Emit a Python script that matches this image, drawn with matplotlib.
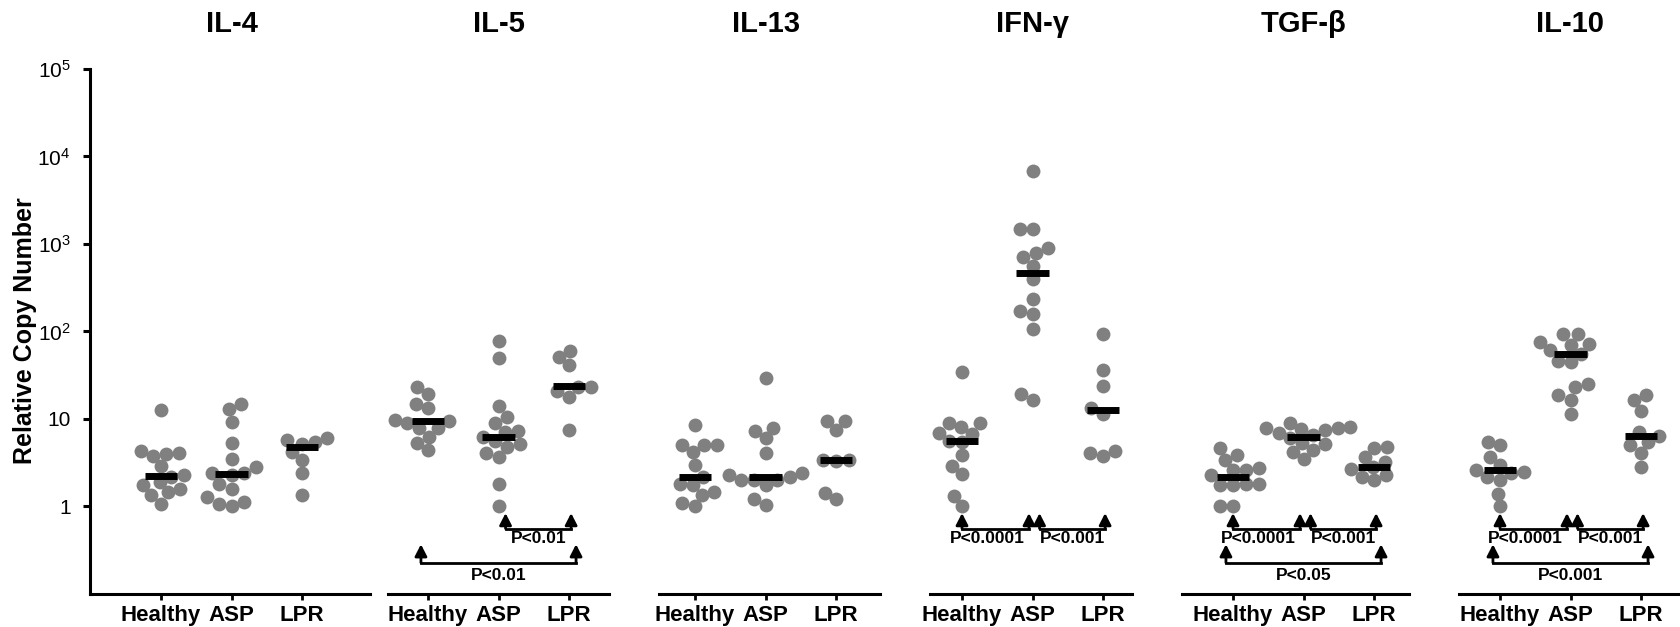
import numpy as np
import matplotlib
matplotlib.use('Agg')
import matplotlib.pyplot as plt
from matplotlib.transforms import blended_transform_factory

plt.rcParams['font.family'] = ['Liberation Sans', 'DejaVu Sans']
plt.rcParams['mathtext.default'] = 'regular'

groups = ['Healthy', 'ASP', 'LPR']
cytokines = ['IL-4', 'IL-5', 'IL-13', 'IFN-γ', 'TGF-β', 'IL-10']

# relative copy numbers
il4_healthy = [12.6, 4.3, 4.0, 4.1, 3.8, 2.9, 2.3, 2.2, 1.9, 1.75, 1.6, 1.45, 1.35, 1.08]
il4_asp = [14.8, 12.9, 9.2, 5.3, 3.45, 2.8, 2.4, 2.4, 2.3, 1.8, 1.6, 1.27, 1.12, 1.08, 1.0]
il4_lpr = [6.0, 5.8, 5.4, 5.2, 4.2, 3.4, 2.4, 1.34]
il4_median = [2.25, 2.33, 4.8]

il5_healthy = [23.3, 19.5, 15.0, 13.2, 9.7, 9.4, 9.1, 7.8, 7.8, 6.2, 5.3, 4.4]
il5_asp = [78, 50, 14, 10.5, 9.0, 7.3, 7.1, 6.2, 5.6, 5.2, 4.8, 4.1, 3.7, 1.8, 1.0]
il5_lpr = [60, 51, 41, 23, 23, 21, 18, 7.4]
il5_median = [9.4, 6.2, 23.7]

il13_healthy = [8.5, 5.1, 5.1, 5.0, 4.2, 3.0, 2.2, 1.8, 1.74, 1.46, 1.34, 1.09, 1.0]
il13_asp = [29.8, 7.9, 7.2, 6.0, 4.1, 2.4, 2.3, 2.2, 2.0, 2.0, 2.0, 1.74, 1.22, 1.05]
il13_lpr = [9.5, 9.5, 7.4, 3.4, 3.4, 3.3, 1.44, 1.22]
il13_median = [2.17, 2.17, 3.37]

ifng_healthy = [34.5, 8.9, 8.9, 8.2, 7.0, 6.8, 5.6, 5.5, 3.9, 2.9, 2.33, 1.31, 1.0]
ifng_asp = [6900, 1480, 1480, 890, 785, 718, 565, 395, 235, 173, 158, 108, 19.2, 16.7]
ifng_lpr = [93, 36, 23.7, 13.2, 11.5, 4.3, 4.1, 3.8]
ifng_median = [5.6, 470, 12.6]

tgfb_healthy = [4.65, 3.9, 3.4, 2.75, 2.6, 2.6, 2.27, 1.82, 1.8, 1.76, 1.74, 1.01, 1.0]
tgfb_asp = [9.0, 8.1, 7.8, 7.8, 7.6, 7.4, 7.0, 6.5, 6.0, 5.3, 5.2, 4.4, 4.2, 3.5]
tgfb_lpr = [4.8, 4.7, 3.67, 3.2, 2.8, 2.7, 2.27, 2.2, 1.99]
tgfb_median = [2.2, 6.2, 2.8]

il10_healthy = [5.5, 5.0, 3.7, 3.0, 2.6, 2.5, 2.4, 2.17, 1.99, 1.4, 1.0]
il10_asp = [93, 93, 75, 72, 70, 61, 55, 46, 45, 25, 23, 18.6, 16.7, 11.3]
il10_lpr = [18.7, 16.4, 12.4, 7.1, 6.4, 5.5, 5.0, 4.1, 2.8]
il10_median = [2.63, 55, 6.4]

# significance brackets: (group a, group b, label, level)
il5_tests = [(1, 2, 'P<0.01', 0), (0, 2, 'P<0.01', 1)]
ifng_tests = [(0, 1, 'P<0.0001', 0), (1, 2, 'P<0.001', 0)]
tgfb_tests = [(0, 1, 'P<0.0001', 0), (1, 2, 'P<0.001', 0), (0, 2, 'P<0.05', 1)]
il10_tests = [(0, 1, 'P<0.0001', 0), (1, 2, 'P<0.001', 0), (0, 2, 'P<0.001', 1)]

panels = [
    ([il4_healthy, il4_asp, il4_lpr], il4_median, []),
    ([il5_healthy, il5_asp, il5_lpr], il5_median, il5_tests),
    ([il13_healthy, il13_asp, il13_lpr], il13_median, []),
    ([ifng_healthy, ifng_asp, ifng_lpr], ifng_median, ifng_tests),
    ([tgfb_healthy, tgfb_asp, tgfb_lpr], tgfb_median, tgfb_tests),
    ([il10_healthy, il10_asp, il10_lpr], il10_median, il10_tests),
]

# panel layout in pixels: (spine left, spine right, first tick)
W, H = 1680, 627
extents = [(90, 370, 161), (388, 609, 428), (659, 880, 695),
           (930, 1132, 962), (1182, 1409, 1233), (1459, 1680, 1500)]
px_unit = 70.5
y_top, y_bot = 69, 594
px_decade = (y_bot - y_top) / 6.0

# y levels for brackets: (line, arrow tip, text)
levels = [(0.56, 0.84, 0.43), (0.228, 0.37, 0.162)]


def swarm_offsets(vals, diam=13.0):
    y = np.log10(vals) * px_decade
    xs = np.zeros(len(y))
    placed = []
    for idx in np.argsort(y):
        yi = y[idx]
        near = [(px, py) for px, py in placed if abs(py - yi) < diam]
        cands = [0.0]
        for px, py in near:
            dx = np.sqrt(diam ** 2 - (py - yi) ** 2)
            cands += [px - dx, px + dx]
        cands.sort(key=abs)
        for c in cands:
            if all((c - px) ** 2 + (yi - py) ** 2 >= diam ** 2 - 1e-6 for px, py in near):
                xs[idx] = c
                break
        placed.append((xs[idx], yi))
    return xs / px_unit


fig = plt.figure(figsize=(W / 100, H / 100), dpi=100)

for k, ((series, med, tests), (L, R, t0)) in enumerate(zip(panels, extents)):
    ax = fig.add_axes([L / W, 1 - y_bot / H, (R - L) / W, (y_bot - y_top) / H])
    ax.set_yscale('log')
    ax.set_ylim(0.1, 1e5)
    ax.set_xlim((L - t0) / px_unit, (R - t0) / px_unit)

    for i, vals in enumerate(series):
        ax.scatter(i + swarm_offsets(vals), vals, s=100, color='#808080',
                   linewidths=0, zorder=2, clip_on=False)
        ax.hlines(med[i], i - 0.23, i + 0.23, color='black', lw=5, zorder=3)

    for a, b, label, lev in tests:
        yl, yt, ytx = levels[lev]
        if lev == 0:
            x0 = a + (0.1 if a == 1 else 0.0)
            x1 = b + (-0.05 if b == 1 else 0.03)
        else:
            x0, x1 = a - 0.1, b + 0.1
        ax.plot([x0, x1], [yl, yl], color='black', lw=2.0, solid_capstyle='projecting')
        for x in (x0, x1):
            ax.annotate('', xy=(x, yt), xytext=(x, yl),
                        arrowprops=dict(arrowstyle='-|>,head_length=0.7,head_width=0.36',
                                        color='black', lw=2.0, shrinkA=0, shrinkB=0))
        xm = (x0 + x1) / 2 - (0.12 if (a, b) == (0, 1) else 0.0)
        ax.text(xm, ytx, label, ha='center', va='center', fontsize=12.5, fontweight='bold')

    for s in ['top', 'right']:
        ax.spines[s].set_visible(False)
    ax.spines['bottom'].set_linewidth(2.2)
    ax.set_xticks(range(3))
    ax.set_xticklabels(groups, fontsize=16, fontweight='bold')
    ax.tick_params(axis='x', length=4, width=2, pad=4)
    ax.yaxis.set_minor_locator(plt.NullLocator())

    if k == 0:
        ax.spines['left'].set_linewidth(2.2)
        ax.set_yticks([1, 10, 1e2, 1e3, 1e4, 1e5])
        ax.set_yticklabels(['1', '10', '$10^2$', '$10^3$', '$10^4$', '$10^5$'], fontsize=15)
        ax.tick_params(axis='y', length=5, width=2.2, pad=9)
    else:
        ax.spines['left'].set_visible(False)
        ax.tick_params(axis='y', left=False, labelleft=False)

    tr = blended_transform_factory(ax.transData, ax.transAxes)
    ax.text(1, 1 + 45 / (y_bot - y_top), cytokines[k], transform=tr,
            ha='center', va='center', fontsize=21, fontweight='bold')

fig.text(25 / W, 1 - 331 / H, 'Relative Copy Number', rotation=90,
         ha='center', va='center', fontsize=18, fontweight='bold')

fig.savefig('out.png', dpi=100)
